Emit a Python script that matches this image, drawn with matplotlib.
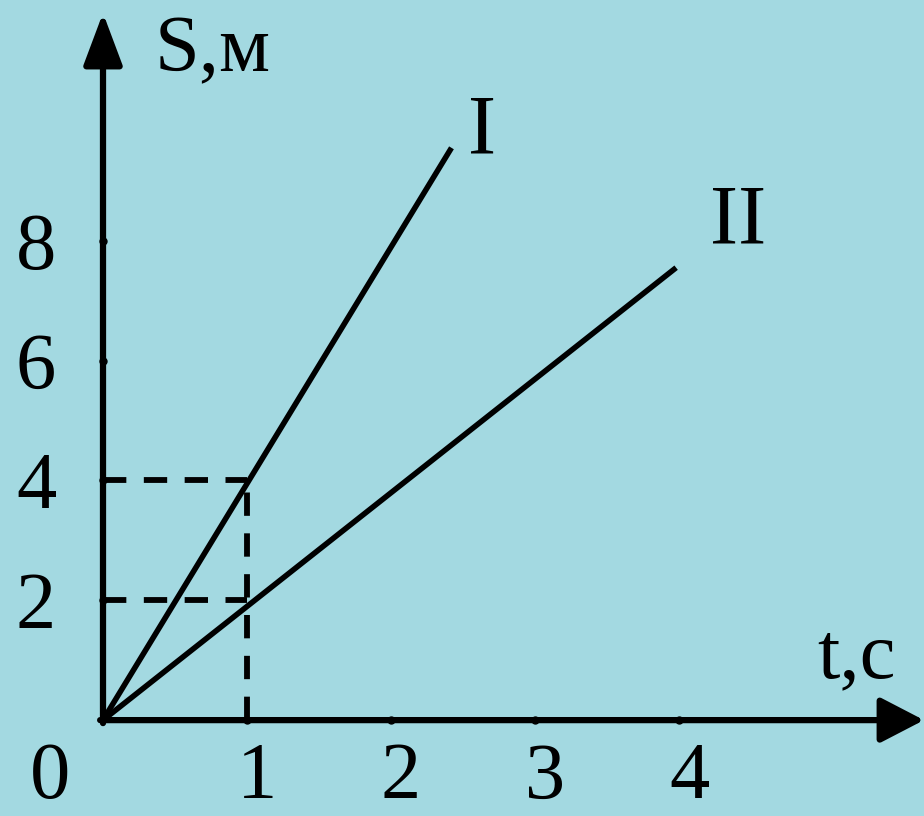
import matplotlib.pyplot as plt

# graph data
t_ticks = [1, 2, 3, 4]
s_ticks = [2, 4, 6, 8]
line_I_t = [0, 2.42]
line_I_s = [0, 9.55]
line_II_t = [0, 3.98]
line_II_s = [0, 7.55]
mark_t = 1
mark_s = [2, 4]

plt.rcParams['font.family'] = ['Liberation Serif', 'DejaVu Serif']
bg = '#a3d9e1'

fig = plt.figure(figsize=(9.24, 8.16), dpi=100, facecolor=bg)
ax = fig.add_axes([0, 0, 1, 1])
ax.set_facecolor(bg)
ax.set_xlim(-103 / 144, (924 - 103) / 144)
ax.set_ylim(-96 / 60, 721 / 60)
ax.axis('off')

# axes with arrows
ax.annotate('', xy=(0, 11.8), xytext=(0, -0.05),
            arrowprops=dict(arrowstyle='-|>,head_length=32,head_width=12',
                            mutation_scale=1, lw=4.5, color='black',
                            shrinkA=0, shrinkB=0))
ax.annotate('', xy=(ax.get_xlim()[1], 0), xytext=(-0.02, 0),
            arrowprops=dict(arrowstyle='-|>,head_length=27,head_width=14',
                            mutation_scale=1, lw=4.5, color='black',
                            shrinkA=0, shrinkB=0))

# tick dots
ax.plot(t_ticks, [0] * len(t_ticks), 'o', color='black', ms=5)
ax.plot([0] * len(s_ticks), s_ticks, 'o', color='black', ms=5)

# dashed helper lines
for s in mark_s:
    ax.plot([0, mark_t], [s, s], color='black', lw=4.2, dashes=(4, 3))
ax.plot([mark_t, mark_t], [0, max(mark_s)], color='black', lw=4.2, dashes=(4, 3))

# graphs
ax.plot(line_I_t, line_I_s, color='black', lw=4, solid_capstyle='butt')
ax.plot(line_II_t, line_II_s, color='black', lw=4, solid_capstyle='butt')

fs = 58
for s in s_ticks:
    ax.text(-0.465, s, str(s), fontsize=fs, ha='center', va='center_baseline')
ax.text(-0.37, -0.84, '0', fontsize=fs, ha='center', va='center_baseline')
for t in t_ticks:
    ax.text(t + 0.07, -0.84, str(t), fontsize=fs, ha='center', va='center_baseline')

ax.text(0.36, 10.83, 'S,м', fontsize=fs, ha='left', va='baseline')
ax.text(4.96, 0.72, 't,с', fontsize=fs, ha='left', va='baseline')
ax.text(2.63, 9.8, 'I', fontsize=61, ha='center', va='center')
ax.text(4.41, 8.3, 'II', fontsize=61, ha='center', va='center')

fig.savefig('out.png', dpi=100, facecolor=bg)
